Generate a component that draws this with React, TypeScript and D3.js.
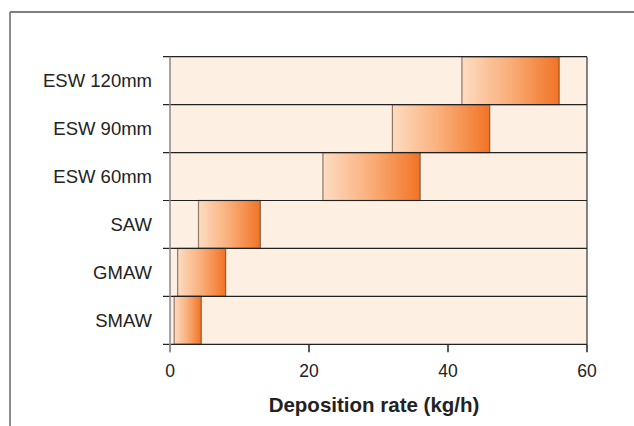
import React from 'react';
import * as d3 from 'd3';

// Deposition rate ranges per process (kg/h)
const processes = ['ESW 120mm', 'ESW 90mm', 'ESW 60mm', 'SAW', 'GMAW', 'SMAW'];
const rateMin = [42, 32, 22, 4.1, 1.1, 0.6];
const rateMax = [56, 46, 36, 13, 8, 4.5];
const xTicks = [0, 20, 40, 60];

const width = 634;
const height = 426;
const font = 'Liberation Sans, Arial, Helvetica, sans-serif';

const App: React.FC = () => {
  const x = d3.scaleLinear().domain([0, 60]).range([170, 587]);
  const y = d3.scaleBand<string>().domain(processes).range([56.7, 344.3]).padding(0);
  const [top, bottom] = y.range();
  const bw = y.bandwidth();

  const rows = processes.map((p, i) => ({ name: p, lo: rateMin[i], hi: rateMax[i] }));

  return (
    <svg
      width={width}
      height={height}
      viewBox={`0 0 ${width} ${height}`}
      style={{ position: 'absolute', left: 0, top: 0, background: '#fff' }}
    >
      <defs>
        <linearGradient id="barGrad" x1="0" x2="1" y1="0" y2="0">
          <stop offset="0%" stopColor="#fddcc2" />
          <stop offset="50%" stopColor="#f9ad78" />
          <stop offset="100%" stopColor="#f17325" />
        </linearGradient>
      </defs>

      {/* outer frame, only top and left visible */}
      <line x1={10} y1={12} x2={width} y2={12} stroke="#555" strokeWidth={1.5} />
      <line x1={10} y1={12} x2={10} y2={height} stroke="#666" strokeWidth={1.5} />

      {/* plot background */}
      <rect x={x(0)} y={top} width={x(60) - x(0)} height={bottom - top} fill="#fdf0e2" />

      {/* bars */}
      {rows.map((d) => (
        <rect
          key={d.name}
          x={x(d.lo)}
          y={y(d.name)}
          width={x(d.hi) - x(d.lo)}
          height={bw}
          fill="url(#barGrad)"
          stroke="#4a3020"
          strokeOpacity={0.6}
          strokeWidth={1.2}
        />
      ))}

      {/* row separators with left ticks */}
      {processes.map((p) => (
        <line key={p} x1={163} x2={x(60)} y1={y(p)} y2={y(p)} stroke="#222" strokeWidth={1.2} />
      ))}
      <line x1={163} x2={x(60)} y1={bottom} y2={bottom} stroke="#222" strokeWidth={1.2} />

      {/* right border */}
      <line x1={x(60)} x2={x(60)} y1={top} y2={bottom} stroke="#333" strokeWidth={1.2} />

      {/* y axis line */}
      <line x1={x(0)} x2={x(0)} y1={top} y2={bottom + 8} stroke="#888" strokeWidth={1.5} />

      {/* x ticks */}
      {xTicks.map((t) => (
        <g key={t}>
          <line x1={x(t)} x2={x(t)} y1={bottom} y2={bottom + 8} stroke={t === 0 ? '#888' : '#222'} strokeWidth={1.5} />
          <text
            x={x(t)}
            y={371}
            dy="0.35em"
            textAnchor="middle"
            fontFamily={font}
            fontSize={17.5}
            fill="#222"
          >
            {t}
          </text>
        </g>
      ))}

      {/* category labels */}
      {processes.map((p) => (
        <text
          key={p}
          x={152}
          y={(y(p) as number) + bw / 2}
          dy="0.35em"
          textAnchor="end"
          fontFamily={font}
          fontSize={18.5}
          fill="#222"
        >
          {p}
        </text>
      ))}

      {/* axis title */}
      <text
        x={374}
        y={411.5}
        textAnchor="middle"
        fontFamily={font}
        fontSize={20.5}
        fontWeight="bold"
        fill="#222"
      >
        Deposition rate (kg/h)
      </text>
    </svg>
  );
};

export default App;
